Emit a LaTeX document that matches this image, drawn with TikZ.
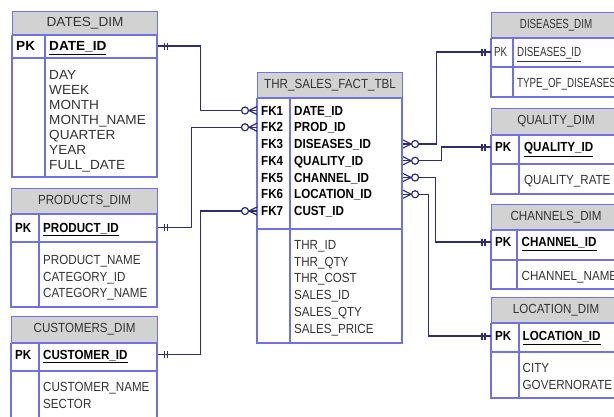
\documentclass[tikz,border=0pt]{standalone}
\usepackage{fontspec}
\setmainfont{Liberation Sans}
\newfontfamily\erfont[FakeStretch=0.88]{Liberation Sans}
\newfontfamily\erwide[FakeStretch=1.03]{Liberation Sans}
\newfontfamily\ernarrow[FakeStretch=0.74]{Liberation Sans}
\usetikzlibrary{calc}
\definecolor{tblblue}{RGB}{112,112,232}
\definecolor{hdrgray}{RGB}{210,210,210}
\definecolor{relnavy}{RGB}{44,44,120}
\definecolor{txtgray}{RGB}{51,51,51}

\begin{document}
\begin{tikzpicture}[x=1pt, y=-1pt,
    tbl/.style={draw=tblblue, line width=1.1pt},
    hdr/.style={tbl, fill=hdrgray, anchor=north west, inner sep=0pt, text=txtgray},
    rowtxt/.style={anchor=west, inner xsep=0pt, inner ysep=0pt, text height=9.4pt, text depth=0pt},
    attr/.style={rowtxt, text=txtgray},
    keytxt/.style={rowtxt, execute at begin node=\bfseries},
    rel/.style={draw=relnavy, line width=1.2pt},
    onlyone/.pic={\draw[rel] (6,-3.5) -- (6,3.5) (9,-3.5) -- (9,3.5);},
    zeromany/.pic={\draw[rel] (0,-4) -- (-8,0) -- (0,4); \draw[rel, fill=white] (-12,0) circle (3.5);}
]
    \useasboundingbox (0,0) rectangle (614,416);
    \clip (0,0) rectangle (614,416);

    % left dimensions
    \begin{scope}[font={\erwide\fontsize{13.2}{15}\selectfont}]
    \node[hdr, minimum width=145, minimum height=23] (dates) at (12,11) {DATES\_DIM};
    \draw[tbl] (dates.south west) rectangle (157,177);
    \draw[tbl] (12,58) -- (157,58) (45,34) -- (45,177);
    \node[keytxt] (datespk) at (16,46) {PK};
    \node[keytxt] (dateid) at (49,46) {\underline{DATE\_ID}};
    \foreach \t [count=\i] in {DAY,WEEK,MONTH,MONTH\_NAME,QUARTER,YEAR,FULL\_DATE}
        \node[attr] (datesattr\i) at (49,60+15*\i) {\t};
    \end{scope}

    \begin{scope}[font={\erfont\fontsize{13.2}{15}\selectfont}]
    \node[hdr, minimum width=146, minimum height=25] (products) at (11,188) {PRODUCTS\_DIM};
    \draw[tbl] (products.south west) rectangle (157,307);
    \draw[tbl] (11,242) -- (157,242) (39,213) -- (39,307);
    \node[keytxt] (prodpk) at (15,227.5) {PK};
    \node[keytxt] (prodid) at (43,227.5) {\underline{PRODUCT\_ID}};
    \foreach \t [count=\i] in {PRODUCT\_NAME,CATEGORY\_ID,CATEGORY\_NAME}
        \node[attr] (prodattr\i) at (43,243.5+16.5*\i) {\t};

    \node[hdr, minimum width=146, minimum height=26] (customers) at (11,316) {CUSTOMERS\_DIM};
    \draw[tbl] (customers.south west) rectangle (157,430);
    \draw[tbl] (11,371) -- (157,371) (39,342) -- (39,430);
    \node[keytxt] (custpk) at (15,354.5) {PK};
    \node[keytxt] (custid) at (43,354.5) {\underline{CUSTOMER\_ID}};
    \foreach \t [count=\i] in {CUSTOMER\_NAME,SECTOR}
        \node[attr] (custattr\i) at (43,370.5+16.5*\i) {\t};

    % fact table
    \node[hdr, minimum width=145, minimum height=25] (fact) at (257,72) {THR\_SALES\_FACT\_TBL};
    \draw[tbl] (fact.south west) rectangle (402,343);
    \draw[tbl] (257,229) -- (402,229) (290,97) -- (290,343);
    \foreach \t [count=\i] in {DATE\_ID,PROD\_ID,DISEASES\_ID,QUALITY\_ID,CHANNEL\_ID,LOCATION\_ID,CUST\_ID} {
        \node[keytxt] (fk\i) at (261,93.75+16.75*\i) {FK\i};
        \node[keytxt] (fkfield\i) at (294,93.75+16.75*\i) {\t};
    }
    \foreach \t [count=\i] in {THR\_ID,THR\_QTY,THR\_COST,SALES\_ID,SALES\_QTY,SALES\_PRICE}
        \node[attr] (factattr\i) at (294,228+16.72*\i) {\t};

    % right dimensions
    \node[hdr, minimum width=129, minimum height=26] (quality) at (491,108) {QUALITY\_DIM};
    \draw[tbl] (quality.south west) rectangle (620,194);
    \draw[tbl] (491,164) -- (620,164) (519,134) -- (519,194);
    \node[keytxt] (qualpk) at (495,147) {PK};
    \node[keytxt] (qualid) at (524,147) {\underline{QUALITY\_ID}};
    \node[attr] (qualattr) at (524,180) {QUALITY\_RATE};

    \node[hdr, minimum width=129, minimum height=25] (channels) at (491,204) {CHANNELS\_DIM};
    \draw[tbl] (channels.south west) rectangle (620,289);
    \draw[tbl] (491,260) -- (620,260) (517,229) -- (517,289);
    \node[keytxt] (chanpk) at (495,242) {PK};
    \node[keytxt] (chanid) at (521.5,242) {\underline{CHANNEL\_ID}};
    \node[attr] (chanattr) at (521.5,276) {CHANNEL\_NAME};

    \node[hdr, minimum width=129, minimum height=25] (location) at (491,297) {LOCATION\_DIM};
    \draw[tbl] (location.south west) rectangle (620,398);
    \draw[tbl] (491,352) -- (620,352) (519,322) -- (519,398);
    \node[keytxt] (locpk) at (495,336) {PK};
    \node[keytxt] (locid) at (522.5,336) {\underline{LOCATION\_ID}};
    \node[attr] (locattr1) at (522.5,368) {CITY};
    \node[attr] (locattr2) at (522.5,384.5) {GOVERNORATE};
    \end{scope}

    \begin{scope}[font={\ernarrow\fontsize{13.2}{15}\selectfont}]
    \node[hdr, minimum width=129, minimum height=25] (diseases) at (491,12) {DISEASES\_DIM};
    \draw[tbl] (diseases.south west) rectangle (620,97);
    \draw[tbl] (491,67) -- (620,67) (513,37) -- (513,97);
    \node[attr] (dispk) at (494,52) {PK};
    \node[attr] (disid) at (517,52) {\underline{DISEASES\_ID}};
    \node[attr] (disattr) at (517,83) {TYPE\_OF\_DISEASES};
    \end{scope}

    % relationships
    \draw[rel] (dateid.east -| dates.east) -- ++(42,0) |- (fk1.west -| fact.west);
    \draw[rel] (prodid.east -| products.east) -- ++(33,0) |- (fk2.west -| fact.west);
    \draw[rel] (custid.east -| customers.east) -- ++(42,0) |- (fk7.west -| fact.west);
    \draw[rel] (fk3.west -| fact.east) -- ++(33,0) |- (disid.west -| diseases.west);
    \draw[rel] (fk4.west -| fact.east) -- ++(38,0) |- (qualid.west -| quality.west);
    \draw[rel] (fk5.west -| fact.east) -- ++(32,0) |- (chanid.west -| channels.west);
    \draw[rel] (fk6.west -| fact.east) -- ++(25,0) |- (locid.west -| location.west);
    \pic at (dateid.east -| dates.east) {onlyone};
    \pic at (prodid.east -| products.east) {onlyone};
    \pic at (custid.east -| customers.east) {onlyone};
    \pic[rotate=180] at (disid.west -| diseases.west) {onlyone};
    \pic[rotate=180] at (qualid.west -| quality.west) {onlyone};
    \pic[rotate=180] at (chanid.west -| channels.west) {onlyone};
    \pic[rotate=180] at (locid.west -| location.west) {onlyone};
    \foreach \i in {1,2,7}
        \pic at (fk\i.west -| fact.west) {zeromany};
    \foreach \i in {3,4,5,6}
        \pic[rotate=180] at (fk\i.west -| fact.east) {zeromany};
\end{tikzpicture}
\end{document}
